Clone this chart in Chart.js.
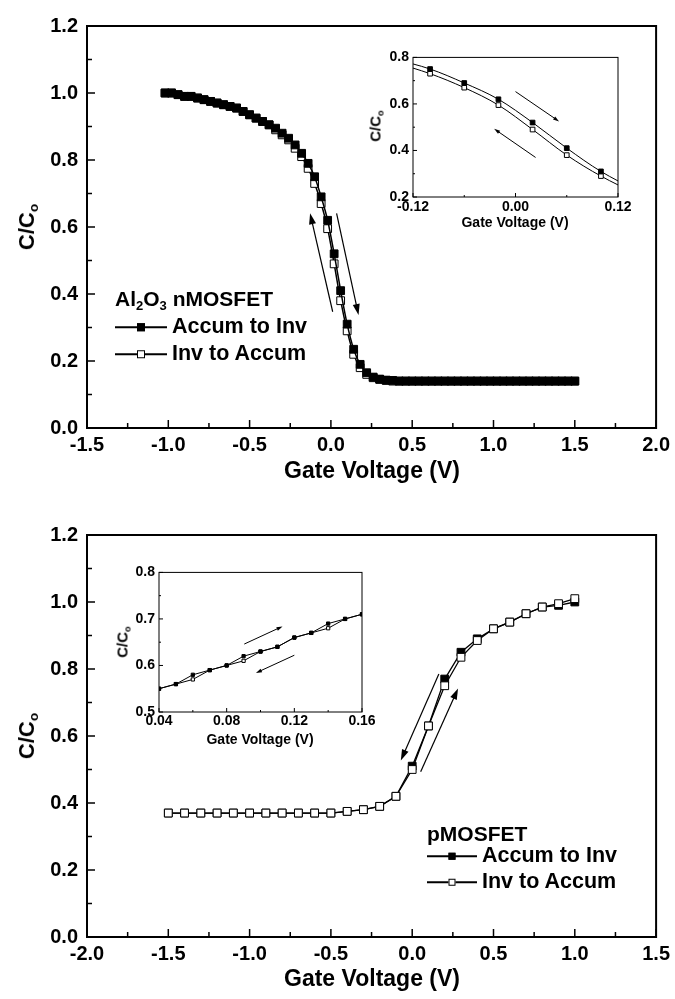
<!DOCTYPE html>
<html>
<head>
<meta charset="utf-8">
<script src="https://cdn.jsdelivr.net/npm/chart.js@4.4.1/dist/chart.umd.min.js"></script>
<style>
  body { margin: 0; background: #fff; width: 675px; height: 999px; position: relative; overflow: hidden;
         font-family: "Liberation Sans", Arial, sans-serif; font-weight: bold; color: #000; }
  canvas { position: absolute; }
  .lbl { position: absolute; white-space: nowrap; font-weight: bold; line-height: 1; }
  .c { transform: translate(-50%, -50%); }
  .rot { transform: translate(-50%, -50%) rotate(-90deg); }
  sub { font-size: 62%; vertical-align: -0.3em; line-height: 0; }
  .leg { position: absolute; display: flex; align-items: center; transform: translateY(-50%);
         font-weight: bold; white-space: nowrap; line-height: 1; }
  .ln { position: relative; height: 2px; background: #000; margin-right: 5px; }
  .mk { position: absolute; left: 50%; top: 50%; transform: translate(-50%, -50%); border: 1px solid #000; box-sizing: border-box; }
</style>
</head>
<body>
<canvas id="nMain" width="675" height="480" style="left:0;top:0"></canvas>
<canvas id="pMain" width="675" height="480" style="left:0;top:509px"></canvas>
<canvas id="nInset" width="300" height="190" style="left:350px;top:45px"></canvas>
<canvas id="pInset" width="300" height="190" style="left:95px;top:560px"></canvas>

<!-- axis titles -->
<div class="lbl c" style="left:372px;top:470px;font-size:23px">Gate Voltage (V)</div>
<div class="lbl c" style="left:372px;top:978px;font-size:23px">Gate Voltage (V)</div>
<div class="lbl rot" style="left:27px;top:227px;font-size:22px">C/C<sub>o</sub></div>
<div class="lbl rot" style="left:27px;top:736px;font-size:22px">C/C<sub>o</sub></div>
<div class="lbl c" style="left:515px;top:222px;font-size:14px">Gate Voltage (V)</div>
<div class="lbl rot" style="left:375px;top:126px;font-size:15px">C/C<sub>o</sub></div>
<div class="lbl c" style="left:260px;top:739px;font-size:14px">Gate Voltage (V)</div>
<div class="lbl rot" style="left:122px;top:642px;font-size:15px">C/C<sub>o</sub></div>

<!-- legends -->
<div class="lbl" style="left:115px;top:288px;font-size:21px">Al<sub>2</sub>O<sub>3</sub> nMOSFET</div>
<div class="leg" style="left:115px;top:327px;font-size:21.5px"><span class="ln" style="width:52px"><i class="mk" style="width:8px;height:8px;background:#000"></i></span>Accum to Inv</div>
<div class="leg" style="left:115px;top:354px;font-size:21.5px"><span class="ln" style="width:52px"><i class="mk" style="width:8px;height:8px;background:#fff"></i></span>Inv to Accum</div>
<div class="lbl" style="left:427px;top:823px;font-size:21px">pMOSFET</div>
<div class="leg" style="left:427px;top:856px;font-size:21.5px"><span class="ln" style="width:50px"><i class="mk" style="width:7px;height:7px;background:#000"></i></span>Accum to Inv</div>
<div class="leg" style="left:427px;top:882px;font-size:21.5px"><span class="ln" style="width:50px"><i class="mk" style="width:7px;height:7px;background:#fff"></i></span>Inv to Accum</div>

<script>
// Al2O3 nMOSFET: gate voltage (V) and C/Co for both sweep directions
const nVolt = [-1.02, -0.98, -0.94, -0.90, -0.86, -0.82, -0.78, -0.74, -0.70, -0.66, -0.62, -0.58, -0.54, -0.50, -0.46, -0.42,
  -0.38, -0.34, -0.30, -0.26, -0.22, -0.18, -0.14, -0.10, -0.06, -0.02, 0.02, 0.06, 0.10, 0.14, 0.18, 0.22,
  0.26, 0.30, 0.34, 0.38, 0.42, 0.46, 0.50, 0.54, 0.58, 0.62, 0.66, 0.70, 0.74, 0.78, 0.82, 0.86,
  0.90, 0.94, 0.98, 1.02, 1.06, 1.10, 1.14, 1.18, 1.22, 1.26, 1.30, 1.34, 1.38, 1.42, 1.46, 1.50];
const nAccum = [1.00, 1.00, 0.995, 0.99, 0.99, 0.985, 0.98, 0.975, 0.97, 0.965, 0.96, 0.955, 0.945, 0.935, 0.925, 0.915,
  0.905, 0.895, 0.88, 0.865, 0.845, 0.82, 0.79, 0.75, 0.69, 0.62, 0.52, 0.41, 0.31, 0.235, 0.19, 0.165,
  0.152, 0.146, 0.143, 0.142, 0.14, 0.14, 0.14, 0.14, 0.14, 0.14, 0.14, 0.14, 0.14, 0.14, 0.14, 0.14,
  0.14, 0.14, 0.14, 0.14, 0.14, 0.14, 0.14, 0.14, 0.14, 0.14, 0.14, 0.14, 0.14, 0.14, 0.14, 0.14];
const nInv = [1.00, 1.00, 0.995, 0.99, 0.99, 0.985, 0.98, 0.975, 0.97, 0.965, 0.96, 0.955, 0.945, 0.935, 0.925, 0.915,
  0.905, 0.89, 0.875, 0.86, 0.835, 0.81, 0.775, 0.73, 0.67, 0.595, 0.49, 0.38, 0.29, 0.22, 0.18, 0.16,
  0.15, 0.145, 0.142, 0.14, 0.14, 0.14, 0.14, 0.14, 0.14, 0.14, 0.14, 0.14, 0.14, 0.14, 0.14, 0.14,
  0.14, 0.14, 0.14, 0.14, 0.14, 0.14, 0.14, 0.14, 0.14, 0.14, 0.14, 0.14, 0.14, 0.14, 0.14, 0.14];

// pMOSFET main curve
const pVolt = [-1.5, -1.4, -1.3, -1.2, -1.1, -1.0, -0.9, -0.8, -0.7, -0.6, -0.5, -0.4, -0.3,
  -0.2, -0.1, 0.0, 0.1, 0.2, 0.3, 0.4, 0.5, 0.6, 0.7, 0.8, 0.9, 1.0];
const pAccum = [0.37, 0.37, 0.37, 0.37, 0.37, 0.37, 0.37, 0.37, 0.37, 0.37, 0.37, 0.375, 0.38,
  0.39, 0.42, 0.51, 0.63, 0.77, 0.85, 0.89, 0.92, 0.94, 0.965, 0.985, 0.99, 1.00];
const pInv = [0.37, 0.37, 0.37, 0.37, 0.37, 0.37, 0.37, 0.37, 0.37, 0.37, 0.37, 0.375, 0.38,
  0.39, 0.42, 0.50, 0.63, 0.75, 0.835, 0.885, 0.92, 0.94, 0.965, 0.985, 0.995, 1.01];

// pMOSFET inset (fine steps)
const piVolt = [0.04, 0.05, 0.06, 0.07, 0.08, 0.09, 0.10, 0.11, 0.12, 0.13, 0.14, 0.15, 0.16];
const piAccum = [0.55, 0.56, 0.58, 0.59, 0.60, 0.62, 0.63, 0.64, 0.66, 0.67, 0.69, 0.70, 0.71];
const piInv = [0.55, 0.56, 0.57, 0.59, 0.60, 0.61, 0.63, 0.64, 0.66, 0.67, 0.68, 0.70, 0.71];

// sweep-direction arrows, in data units: [x start, y start, x end, y end]
const nMainArrows = [[0.011, 0.347, -0.128, 0.641], [0.035, 0.641, 0.17, 0.337]];
const nInsetArrows = [[0.0, 0.653, 0.051, 0.525], [0.0235, 0.370, -0.025, 0.493]];
const pMainArrows = [[0.164, 0.785, -0.07, 0.527], [0.052, 0.493, 0.282, 0.742]];
const pInsetArrows = [[0.0904, 0.646, 0.113, 0.684], [0.12, 0.622, 0.0973, 0.584]];

const FONT = '"Liberation Sans", Arial, sans-serif';
const clean = v => (Math.abs(v) < 1e-9 ? 0 : v);

// frame, inward ticks and arrows
const decor = {
  id: 'decor',
  afterDatasetsDraw(chart, args, o) {
    const { ctx, chartArea: a, scales } = chart;
    ctx.save();
    ctx.strokeStyle = '#000';
    ctx.fillStyle = '#000';
    ctx.lineWidth = o.frame;
    ctx.strokeRect(a.left, a.top, a.right - a.left, a.bottom - a.top);

    ctx.lineWidth = o.tickWidth;
    const tickMarks = (scale, horiz) => {
      const vals = scale.ticks.map(t => t.value);
      const mids = vals.slice(1).map((v, i) => (v + vals[i]) / 2);
      const mark = (v, len) => {
        const p = scale.getPixelForValue(v);
        ctx.beginPath();
        if (horiz) { ctx.moveTo(p, a.bottom); ctx.lineTo(p, a.bottom - len); }
        else { ctx.moveTo(a.left, p); ctx.lineTo(a.left + len, p); }
        ctx.stroke();
      };
      vals.forEach(v => mark(v, o.major));
      if (o.minor) mids.forEach(v => mark(v, o.minor));
    };
    tickMarks(scales.x, true);
    tickMarks(scales.y, false);

    ctx.lineWidth = o.arrowWidth;
    (o.arrows || []).forEach(([x1, y1, x2, y2]) => {
      const X1 = scales.x.getPixelForValue(x1), Y1 = scales.y.getPixelForValue(y1);
      const X2 = scales.x.getPixelForValue(x2), Y2 = scales.y.getPixelForValue(y2);
      const ang = Math.atan2(Y2 - Y1, X2 - X1), h = o.head, w = o.head * 0.32;
      ctx.beginPath();
      ctx.moveTo(X1, Y1);
      ctx.lineTo(X2 - Math.cos(ang) * h * 0.7, Y2 - Math.sin(ang) * h * 0.7);
      ctx.stroke();
      ctx.beginPath();
      ctx.moveTo(X2, Y2);
      ctx.lineTo(X2 - h * Math.cos(ang) + w * Math.sin(ang), Y2 - h * Math.sin(ang) - w * Math.cos(ang));
      ctx.lineTo(X2 - h * Math.cos(ang) - w * Math.sin(ang), Y2 - h * Math.sin(ang) + w * Math.cos(ang));
      ctx.closePath();
      ctx.fill();
    });
    ctx.restore();
  }
};

function series(label, xs, ys, filled, radius, width, order, smooth) {
  return {
    label,
    data: xs.map((x, i) => ({ x, y: ys[i] })),
    showLine: true,
    borderColor: '#000',
    borderWidth: width,
    pointStyle: 'rect',
    pointRadius: radius,
    pointBorderWidth: 1,
    pointBorderColor: '#000',
    pointBackgroundColor: filled ? '#000' : '#fff',
    cubicInterpolationMode: smooth ? 'monotone' : 'default',
    order
  };
}

function axis(min, max, step, digits, size, pad, fit) {
  return {
    type: 'linear', min, max,
    grid: { display: false, drawTicks: false },
    border: { display: false },
    ticks: {
      stepSize: step, autoSkip: false, maxRotation: 0, padding: pad, color: '#000',
      font: { family: FONT, weight: 'bold', size },
      callback: v => clean(v).toFixed(digits)
    },
    afterFit: fit
  };
}

function plot(id, datasets, xAx, yAx, padding, decorOpts) {
  return new Chart(document.getElementById(id), {
    type: 'scatter',
    data: { datasets },
    options: {
      responsive: false,
      animation: false,
      devicePixelRatio: 1,
      events: [],
      layout: { padding },
      scales: { x: xAx, y: yAx },
      plugins: { legend: { display: false }, tooltip: { enabled: false }, decor: decorOpts }
    },
    plugins: [decor]
  });
}

// top: Al2O3 nMOSFET
plot('nMain',
  [series('Accum to Inv', nVolt, nAccum, true, 5.5, 1.5, 0, true),
   series('Inv to Accum', nVolt, nInv, false, 5.5, 1.5, 1, true)],
  axis(-1.5, 2.0, 0.5, 1, 20, 5, s => { s.height = 52; }),
  axis(0, 1.2, 0.2, 1, 20, 9, s => { s.width = 87; }),
  { top: 26, right: 17, left: 0, bottom: 0 },
  { frame: 2, tickWidth: 1.5, major: 8, minor: 5, arrows: nMainArrows, arrowWidth: 1.2, head: 11 });

plot('nInset',
  [series('Accum to Inv', nVolt, nAccum, true, 3.3, 1, 0, true),
   series('Inv to Accum', nVolt, nInv, false, 3.3, 1, 1, true)],
  axis(-0.12, 0.12, 0.12, 2, 14, 2, s => { s.height = 38; }),
  axis(0.2, 0.8, 0.2, 1, 14, 4, s => { s.width = 63; }),
  { top: 10, right: 32, left: 0, bottom: 0 },
  { frame: 1, tickWidth: 1, major: 4, minor: 2, arrows: nInsetArrows, arrowWidth: 1, head: 6 });

// bottom: pMOSFET
plot('pMain',
  [series('Accum to Inv', pVolt, pAccum, true, 5.5, 1.3, 1, false),
   series('Inv to Accum', pVolt, pInv, false, 5.5, 1.3, 0, false)],
  axis(-2.0, 1.5, 0.5, 1, 20, 5, s => { s.height = 52; }),
  axis(0, 1.2, 0.2, 1, 20, 9, s => { s.width = 87; }),
  { top: 26, right: 17, left: 0, bottom: 0 },
  { frame: 2, tickWidth: 1.5, major: 8, minor: 5, arrows: pMainArrows, arrowWidth: 1.2, head: 11 });

plot('pInset',
  [series('Accum to Inv', piVolt, piAccum, true, 2.3, 1, 0, false),
   series('Inv to Accum', piVolt, piInv, false, 2.3, 1, 1, false)],
  axis(0.04, 0.16, 0.04, 2, 14, 1, s => { s.height = 38; }),
  axis(0.5, 0.8, 0.1, 1, 14, 4, s => { s.width = 64; }),
  { top: 12, right: 33, left: 0, bottom: 0 },
  { frame: 1, tickWidth: 1, major: 4, minor: 2, arrows: pInsetArrows, arrowWidth: 1, head: 6 });
</script>
</body>
</html>
